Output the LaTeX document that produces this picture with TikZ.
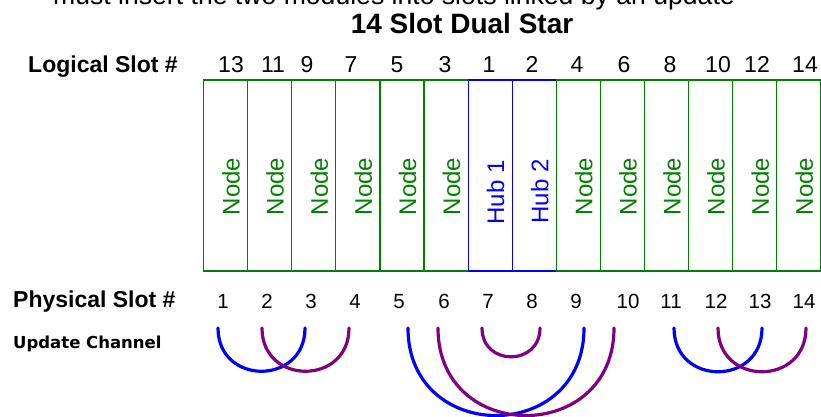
\documentclass[tikz,border=0pt]{standalone}
\usepackage{fontspec}
\setmainfont{Liberation Sans}
\newfontfamily\chanfont{DejaVu Sans}
\usetikzlibrary{positioning}
\definecolor{slotgreen}{RGB}{0,128,0}
\definecolor{hubblue}{RGB}{0,0,255}
\definecolor{chanpurple}{RGB}{128,0,128}

\begin{document}
\begin{tikzpicture}[x=1pt, y=-1pt,
      slot/.style={draw=slotgreen, line width=1.2pt, minimum width=44.1pt, minimum height=191pt, inner sep=0pt},
      hub/.style={slot, draw=hubblue},
      slot text/.style={rotate=90, text=slotgreen, inner sep=0pt, font=\fontsize{24}{28}\selectfont},
      hub text/.style={slot text, text=hubblue},
      head/.style={anchor=base west, inner sep=0pt, font=\bfseries\fontsize{23}{27}\selectfont},
      num/.style={anchor=base, inner sep=0pt, font=\fontsize{23}{27}\selectfont},
      pnum/.style={anchor=base, inner sep=0pt, font=\fontsize{20.5}{24}\selectfont},
      chan/.style={line width=3.2pt, line cap=round},
      dip/.style={out=-90, in=-90, looseness=1.7}]
      \useasboundingbox (0,0) rectangle (821,416);
      \clip (0,0) rectangle (821,416);
      % Heading
      \node[anchor=base, inner sep=0pt, font=\fontsize{26.6}{30}\selectfont] (intro) at (394,4)
        {must insert the two modules into slots linked by an update};
      \node[anchor=base, inner sep=0pt, font=\bfseries\fontsize{28}{32}\selectfont] (title) at (462,33) {14 Slot Dual Star};
      % Row labels
      \node[head] (logical) at (28,72) {Logical Slot \#};
      \node[head] (physical) at (13,307) {Physical Slot \#};
      \node[head, font=\chanfont\bfseries\fontsize{16.5}{20}\selectfont] (update) at (13,348) {Update Channel};
      % Slots
      \foreach \k/\kind/\word/\dy in {1/slot/Node/11, 2/slot/Node/11, 3/slot/Node/11, 4/slot/Node/11,
          5/slot/Node/11, 6/slot/Node/11, 7/hub/Hub 1/17, 8/hub/Hub 2/16, 9/slot/Node/11,
          10/slot/Node/11, 11/slot/Node/11, 12/slot/Node/11, 13/slot/Node/11, 14/slot/Node/11} {
        \node[\kind] (s\k) at ({225.55+44.1*(\k-1)},175.5) {};
        \node[\kind\space text] (t\k) at ([xshift=5.5pt, yshift=-\dy pt]s\k.center) {\word};
      }
      % Logical slot numbers
      \foreach \n/\x in {13/231, 11/273, 9/307, 7/351, 5/397, 3/445, 1/489, 2/532,
          4/577, 6/624, 8/670, 10/718, 12/757, 14/805}
        \node[num] (l\n) at (\x,72) {\n};
      % Physical slot numbers
      \foreach \n/\x in {1/223, 2/267, 3/311, 4/355, 5/399, 6/444, 7/488, 8/532,
          9/576, 10/628, 11/671, 12/716, 13/760, 14/804}
        \node[pnum] (p\n) at (\x,308) {\n};
      % Update channel ends
      \foreach \n/\x in {1/218, 2/262, 3/305, 4/349, 5/408, 6/438, 7/482, 8/540,
          9/584, 10/614, 11/674, 12/718, 13/762, 14/806}
        \coordinate (a\n) at (\x,328);
      % Update channels
      \draw[chan, hubblue] (a1) to[dip] (a3);
      \draw[chan, chanpurple] (a2) to[dip] (a4);
      \draw[chan, hubblue] (a5) to[dip] (a9);
      \draw[chan, chanpurple] (a6) to[dip] (a10);
      \draw[chan, chanpurple] (a7) to[dip] (a8);
      \draw[chan, hubblue] (a11) to[dip] (a13);
      \draw[chan, chanpurple] (a12) to[dip] (a14);
    \end{tikzpicture}
\end{document}
